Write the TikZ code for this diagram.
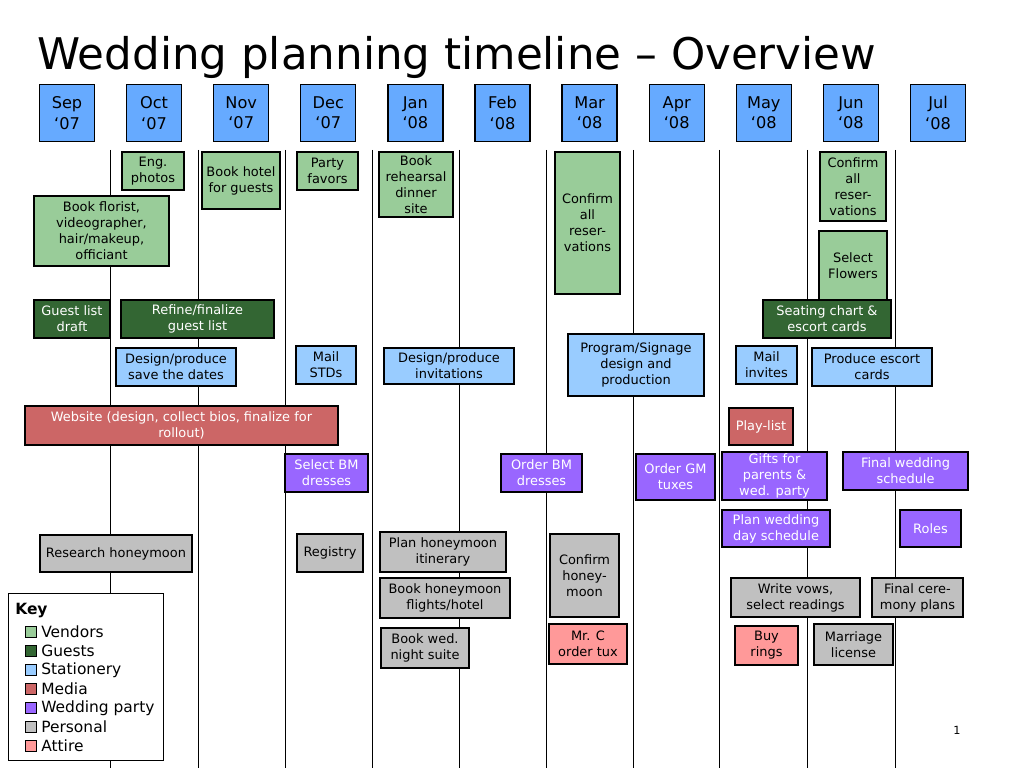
\documentclass[tikz,border=0pt]{standalone}
\usepackage{fontspec}
\setmainfont{DejaVu Sans}
\definecolor{vendorc}{HTML}{99CC99}
\definecolor{guestc}{HTML}{336633}
\definecolor{statc}{HTML}{99CCFF}
\definecolor{monthc}{HTML}{66AAFF}
\definecolor{mediac}{HTML}{CC6666}
\definecolor{partyc}{HTML}{9966FF}
\definecolor{personc}{HTML}{C0C0C0}
\definecolor{attirec}{HTML}{FF9999}
% box from (x1,y1) to (x2,y2), in pixels of the page
\newcommand{\tbox}[7]{\node[#1,minimum width={(#4-#2)*0.025cm},minimum height={(#5-#3)*0.025cm}] (#6) at ({(#2+#4)/2},{(#3+#5)/2}) {#7};}
\begin{document}
\begin{tikzpicture}[x=0.025cm,y=-0.025cm,
    task/.style={draw,line width=0.9pt,align=center,inner sep=1pt,font=\fontsize{9.2}{11.3}\selectfont},
    month/.style={task,fill=monthc,font=\fontsize{11.5}{14.5}\selectfont},
    vendor/.style={task,fill=vendorc},
    guest/.style={task,fill=guestc,text=white},
    stat/.style={task,fill=statc},
    media/.style={task,fill=mediac,text=white},
    party/.style={task,fill=partyc,text=white},
    person/.style={task,fill=personc},
    attire/.style={task,fill=attirec},
    keysq/.style={draw,line width=0.6pt,minimum size=0.28cm,inner sep=0pt}]
\useasboundingbox (0,0) rectangle (1024,768);
\node[anchor=base west,font=\fontsize{31}{36}\selectfont,inner sep=0pt] (title) at (37,70) {Wedding planning timeline – Overview};
% months and separators
\foreach \m/\y [count=\i from 0] in {Sep/07,Oct/07,Nov/07,Dec/07,Jan/08,Feb/08,Mar/08,Apr/08,May/08,Jun/08,Jul/08}{
  \node[month,minimum width=1.375cm,minimum height=1.425cm] (m\i) at ({67+\i*87.1},113) {\m\\‘\y};
}
\foreach \x in {110,198,285,372,459,546,633,719,807,895}{
  \draw[line width=0.6pt] (\x,150) -- (\x,768);
}
% vendors/decor
\tbox{vendor}{122}{152}{184}{190}{engph}{Eng.\\photos}
\tbox{vendor}{202}{152}{280}{209}{hotel}{Book hotel\\for guests}
\tbox{vendor}{297}{152}{358}{190}{favors}{Party\\favors}
\tbox{vendor}{379}{152}{453}{217}{rehdin}{Book\\rehearsal\\dinner\\site}
\tbox{vendor}{34}{196}{169}{266}{florist}{Book florist,\\videographer,\\hair/makeup,\\officiant}
\tbox{vendor}{555}{152}{620}{294}{confmar}{Confirm\\all\\reser-\\vations}
\tbox{vendor}{820}{152}{886}{221}{confjun}{Confirm\\all\\reser-\\vations}
\tbox{vendor}{819}{231}{887}{300}{flowers}{Select\\Flowers}
% guests
\tbox{guest}{34}{300}{110}{338}{gldraft}{Guest list\\draft}
\tbox{guest}{121}{300}{274}{338}{glfinal}{Refine/finalize\\guest list}
\tbox{guest}{763}{300}{891}{338}{seating}{Seating chart \&\\escort cards}
% stationery
\tbox{stat}{116}{348}{236}{386}{std}{Design/produce\\save the dates}
\tbox{stat}{296}{346}{356}{384}{mailstd}{Mail\\STDs}
\tbox{stat}{384}{348}{514}{384}{invit}{Design/produce\\invitations}
\tbox{stat}{568}{334}{704}{396}{signage}{Program/Signage\\design and\\production}
\tbox{stat}{736}{346}{797}{384}{mailinv}{Mail\\invites}
\tbox{stat}{812}{348}{932}{386}{escort}{Produce escort\\cards}
% media
\tbox{media}{25}{406}{338}{445}{website}{Website (design, collect bios, finalize for\\rollout)}
\tbox{media}{729}{408}{793}{445}{playlist}{Play-list}
% wedding party
\tbox{party}{285}{454}{368}{492}{selbm}{Select BM\\dresses}
\tbox{party}{501}{454}{582}{492}{ordbm}{Order BM\\dresses}
\tbox{party}{636}{454}{715}{500}{ordgm}{Order GM\\tuxes}
\tbox{party}{722}{452}{827}{500}{gifts}{Gifts for\\parents \&\\wed. party}
\tbox{party}{843}{452}{968}{490}{finsched}{Final wedding\\schedule}
\tbox{party}{722}{510}{830}{547}{daysched}{Plan wedding\\day schedule}
\tbox{party}{900}{510}{961}{547}{roles}{Roles}
% personal
\tbox{person}{40}{535}{192}{572}{research}{Research honeymoon}
\tbox{person}{297}{534}{363}{572}{registry}{Registry}
\tbox{person}{380}{532}{506}{572}{itin}{Plan honeymoon\\itinerary}
\tbox{person}{550}{534}{619}{617}{confhm}{Confirm\\honey-\\moon}
\tbox{person}{380}{578}{510}{618}{flights}{Book honeymoon\\flights/hotel}
\tbox{person}{381}{628}{469}{668}{suite}{Book wed.\\night suite}
\tbox{person}{731}{578}{860}{617}{vows}{Write vows,\\select readings}
\tbox{person}{872}{578}{963}{617}{cerem}{Final cere-\\mony plans}
\tbox{person}{814}{624}{893}{665}{license}{Marriage\\license}
% attire
\tbox{attire}{549}{624}{627}{664}{tux}{Mr. C\\order tux}
\tbox{attire}{735}{626}{798}{665}{rings}{Buy\\rings}
% key
\node[draw,fill=white,line width=0.9pt,minimum width=3.875cm,minimum height=4.175cm,anchor=north west] (key) at (8,593) {};
\node[anchor=west,font=\bfseries\fontsize{11}{13}\selectfont,inner sep=0pt] (keyhead) at (15,611) {Key};
\foreach \c/\t [count=\i from 0] in {vendorc/Vendors/decor,guestc/Guests,statc/Stationery,mediac/Media,partyc/Wedding party,personc/Personal,attirec/Attire}{
  \node[keysq,fill=\c] (ks\i) at (31,{632+\i*19}) {};
  \node[anchor=west,inner sep=0pt,font=\fontsize{11}{13}\selectfont] (kt\i) at (41,{632+\i*19}) {\t};
}
\node[font=\fontsize{8}{10}\selectfont] (pageno) at (957,730) {1};
\end{tikzpicture}
\end{document}
